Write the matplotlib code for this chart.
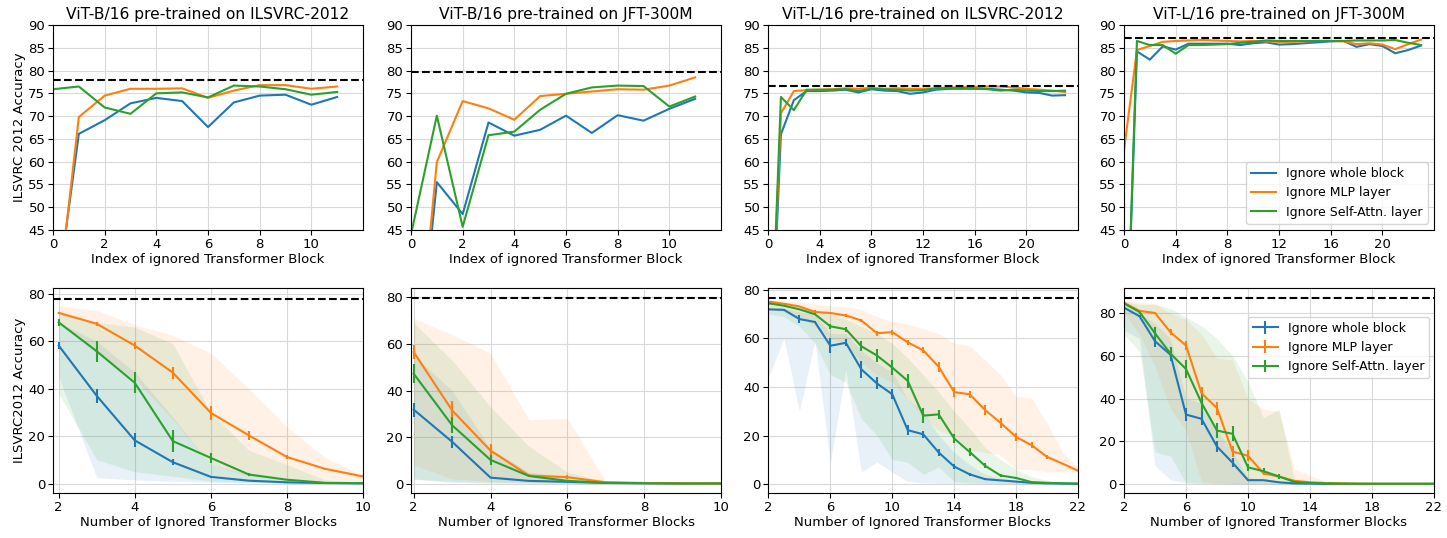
import matplotlib
matplotlib.use('Agg')
import matplotlib.pyplot as plt
import numpy as np

# ---- top row: accuracy when one block / layer is skipped ----
titles = ['ViT-B/16 pre-trained on ILSVRC-2012', 'ViT-B/16 pre-trained on JFT-300M',
          'ViT-L/16 pre-trained on ILSVRC-2012', 'ViT-L/16 pre-trained on JFT-300M']
baselines = [77.9, 79.6, 76.5, 87.1]

b16_in_block = [24, 66.1, 69.1, 72.8, 74.0, 73.3, 67.6, 73.0, 74.5, 74.7, 72.5, 74.2]
b16_in_mlp = [20, 69.8, 74.5, 76.0, 76.0, 76.1, 74.0, 75.6, 76.8, 76.8, 76.0, 76.5]
b16_in_attn = [75.9, 76.5, 71.9, 70.5, 75.0, 75.2, 74.1, 76.7, 76.5, 75.9, 74.7, 75.3]

b16_jft_block = [0.1, 55.5, 48.5, 68.6, 65.7, 67.0, 70.1, 66.3, 70.2, 69.0, 71.6, 73.8]
b16_jft_mlp = [0.1, 59.9, 73.3, 71.7, 69.2, 74.4, 74.9, 75.4, 75.9, 75.8, 76.7, 78.5]
b16_jft_attn = [44.0, 70.1, 45.7, 65.8, 66.6, 71.4, 74.9, 76.3, 76.7, 76.6, 72.1, 74.3]

l16_in_block = [0.1, 66.0, 73.5, 75.5, 75.5, 75.6, 75.8, 75.2, 75.9, 75.6, 75.5, 74.9,
                75.2, 75.8, 76.0, 76.0, 76.0, 76.0, 75.8, 75.6, 75.2, 75.1, 74.5, 74.6]
l16_in_mlp = [0.1, 70.6, 75.5, 75.7, 75.8, 75.9, 76.1, 76.0, 76.2, 76.0, 76.1, 76.0,
              76.0, 76.1, 76.3, 76.3, 76.4, 76.5, 76.5, 76.3, 76.0, 75.8, 75.6, 75.3]
l16_in_attn = [0.1, 74.2, 71.3, 75.8, 75.8, 75.8, 75.9, 75.5, 76.0, 75.9, 75.8, 75.6,
               75.7, 76.1, 76.1, 76.2, 76.1, 75.9, 75.6, 75.8, 75.6, 75.5, 75.5, 75.6]

l16_jft_block = [0.1, 84.2, 82.4, 85.3, 84.6, 85.9, 85.9, 85.9, 85.9, 85.6, 86.0, 86.2,
                 85.7, 85.8, 86.0, 86.2, 86.4, 86.5, 85.2, 85.8, 85.4, 83.8, 84.5, 85.5]
l16_jft_mlp = [62.5, 84.5, 85.4, 86.3, 86.5, 86.6, 86.7, 86.6, 86.5, 86.4, 86.5, 86.4,
               86.3, 86.3, 86.4, 86.5, 86.5, 86.4, 85.8, 86.0, 85.7, 84.7, 85.8, 86.8]
l16_jft_attn = [0.1, 86.5, 85.6, 85.6, 83.7, 85.6, 85.6, 85.7, 85.8, 86.1, 86.3, 86.6,
                86.5, 86.5, 86.5, 86.5, 86.5, 86.5, 86.6, 86.6, 86.6, 86.7, 86.1, 85.6]

top_data = [(b16_in_block, b16_in_mlp, b16_in_attn),
            (b16_jft_block, b16_jft_mlp, b16_jft_attn),
            (l16_in_block, l16_in_mlp, l16_in_attn),
            (l16_jft_block, l16_jft_mlp, l16_jft_attn)]

# ---- bottom row: accuracy when several blocks are skipped (mean, std, min, max) ----
b_in_blk = [58.2, 37.0, 18.2, 9.0, 2.8, 1.2, 0.5, 0.2, 0.1]
b_in_blk_e = [1.5, 3.0, 3.0, 1.2, 0.4, 0.2, 0.1, 0.1, 0.0]
b_in_blk_lo = [45, 2.5, 1.5, 1.0, 0.5, 0.3, 0.1, 0.0, 0.0]
b_in_blk_hi = [68, 60, 47, 28, 8, 4, 2, 0.5, 0.2]
b_in_mlp = [72.0, 67.4, 58.2, 46.8, 29.8, 20.3, 11.2, 6.2, 3.0]
b_in_mlp_e = [0.5, 0.8, 1.5, 2.5, 3.0, 2.0, 1.0, 0.5, 0.3]
b_in_mlp_lo = [68, 55, 44, 27, 8, 3, 2, 1, 0.5]
b_in_mlp_hi = [75, 73, 67, 62.5, 55, 40, 24, 11, 3.5]
b_in_att = [68.0, 55.8, 42.5, 17.9, 10.8, 3.8, 1.6, 0.3, 0.1]
b_in_att_e = [1.5, 4.5, 4.5, 4.5, 2.0, 0.8, 0.3, 0.1, 0.0]
b_in_att_lo = [38, 10, 5, 3, 1, 0.5, 0.2, 0.0, 0.0]
b_in_att_hi = [72, 68, 66, 59, 30, 14, 8, 1.5, 0.5]

b_jft_blk = [31.8, 18.0, 2.6, 1.2, 0.8, 0.3, 0.2, 0.1, 0.1]
b_jft_blk_e = [3.0, 2.5, 0.3, 0.1, 0.1, 0.0, 0.0, 0.0, 0.0]
b_jft_blk_lo = [2, 0.5, 0.3, 0.2, 0.1, 0.0, 0.0, 0.0, 0.0]
b_jft_blk_hi = [55, 40, 15, 5, 3, 0.5, 0.3, 0.2, 0.1]
b_jft_mlp = [56.5, 31.5, 14.2, 3.5, 2.8, 0.6, 0.3, 0.2, 0.1]
b_jft_mlp_e = [3.0, 4.0, 3.0, 0.5, 1.0, 0.3, 0.1, 0.0, 0.0]
b_jft_mlp_lo = [8, 2, 1, 0.5, 0.3, 0.1, 0.0, 0.0, -0.5]
b_jft_mlp_hi = [71, 64, 56, 27.5, 28, 1, 0.5, 0.3, 0.2]
b_jft_att = [47.2, 25.1, 10.2, 3.3, 1.2, 0.4, 0.2, 0.1, 0.1]
b_jft_att_e = [4.0, 3.5, 2.0, 0.6, 0.2, 0.1, 0.0, 0.0, 0.0]
b_jft_att_lo = [2, 1, 0.5, 0.3, 0.1, 0.0, 0.0, 0.0, 0.0]
b_jft_att_hi = [69, 53, 33, 16, 5, 1, 0.5, 0.3, 0.2]

l_in_blk = [72.0, 71.8, 68.0, 66.8, 57.0, 58.2, 47.3, 41.5, 37.0, 22.2, 20.5, 13.0,
            7.2, 4.0, 2.0, 1.5, 1.0, 0.5, 0.3, 0.2, 0.1]
l_in_blk_e = [1.0, 0.3, 1.5, 0.5, 3.0, 1.5, 3.5, 2.5, 2.0, 2.0, 1.5, 1.5,
              1.0, 0.5, 0.3, 0.2, 0.1, 0.1, 0.0, 0.0, 0.0]
l_in_blk_lo = [44, 60, 30, 59, 9, 47, 5, 9, 5, 1, 0.5, 0.3, 0.2, 0.1, 0.0, 0.0,
               0.0, 0.0, 0.0, 0.0, 0.0]
l_in_blk_hi = [72.5, 72.5, 71, 70, 62, 62, 55, 50, 46, 35, 30, 20, 13, 8, 4, 2.5,
               1.5, 1, 0.5, 0.3, 0.2]
l_in_mlp = [75.2, 74.3, 73.2, 70.9, 70.5, 69.5, 67.4, 62.2, 62.6, 58.4, 55.1, 48.3,
            37.9, 37.0, 30.5, 25.2, 19.4, 16.0, 11.2, 8.4, 5.5]
l_in_mlp_e = [0.3, 0.3, 0.3, 0.8, 0.3, 0.5, 0.8, 1.0, 1.0, 1.0, 1.2, 2.0,
              2.0, 1.5, 2.0, 2.0, 1.5, 1.2, 0.8, 0.3, 0.3]
l_in_mlp_lo = [72, 71, 69, 65, 60, 58, 50, 45, 42, 35, 28, 22, 20, 14, 13, 12,
               6, 6, 5, 5, 5]
l_in_mlp_hi = [76, 75.5, 75, 74, 73.5, 73, 72, 69, 67, 66, 64, 62, 58, 57, 51, 45,
               36, 35.5, 25, 13, 7]
l_in_att = [74.5, 73.5, 72.0, 70.0, 65.0, 63.8, 56.8, 53.0, 48.0, 42.5, 28.2, 28.7,
            18.8, 13.2, 7.5, 3.5, 2.5, 0.8, 0.5, 0.3, 0.2]
l_in_att_e = [0.3, 0.3, 0.3, 0.5, 1.0, 1.0, 2.0, 2.5, 3.0, 3.0, 3.0, 2.0,
              2.0, 1.5, 1.0, 0.5, 0.3, 0.1, 0.1, 0.0, 0.0]
l_in_att_lo = [70, 69, 65, 58, 45, 42, 27, 20, 10, 9, 4, 7, 1, 0.5, 0.3, 0.2,
               0.1, 0.0, 0.0, 0.0, 0.0]
l_in_att_hi = [75, 74, 73, 72, 70, 68, 65, 62, 58, 52, 45, 38, 30, 23, 15, 10,
               6, 3, 1.5, 0.5, 0.3]

l_jft_blk = [82.5, 78.5, 66.8, 60.5, 32.5, 30.5, 17.5, 10.0, 1.8, 1.8, 0.8, 0.3,
             0.2, 0.1, 0.1, 0.1, 0.1, 0.1, 0.1, 0.1, 0.1]
l_jft_blk_e = [0.5, 0.5, 2.5, 3.0, 3.0, 3.0, 2.5, 2.0, 0.3, 0.2, 0.1, 0.0,
               0.0, 0.0, 0.0, 0.0, 0.0, 0.0, 0.0, 0.0, 0.0]
l_jft_blk_lo = [72, 68, 8.5, 2, 0.5, 0.3, 0.2, 0.1, 0.0, 0.0, 0.0, 0.0, 0.0, 0.0,
                0.0, 0.0, 0.0, 0.0, 0.0, 0.0, 0.0]
l_jft_blk_hi = [84, 80, 75, 68, 40, 38, 25, 15, 3, 2, 1, 0.5, 0.3, 0.2, 0.1, 0.1,
                0.1, 0.1, 0.1, 0.1, 0.1]
l_jft_mlp = [84.8, 81.0, 80.0, 71.0, 64.8, 42.5, 35.5, 15.2, 13.2, 5.0, 3.5, 1.5,
             0.8, 0.5, 0.3, 0.2, 0.1, 0.1, 0.1, 0.1, 0.1]
l_jft_mlp_e = [0.5, 0.5, 0.5, 1.5, 2.0, 3.0, 3.0, 2.5, 2.5, 1.0, 0.5, 0.3,
               0.1, 0.0, 0.0, 0.0, 0.0, 0.0, 0.0, 0.0, 0.0]
l_jft_mlp_lo = [80, 70, 55, 35, 25, 1, 0.5, 0.3, 0.2, 0.1, 0.0, 0.0, 0.0, 0.0,
                0.0, 0.0, 0.0, 0.0, 0.0, 0.0, 0.0]
l_jft_mlp_hi = [86, 85, 84.5, 80, 77, 70, 59, 58, 40, 35, 34, 7, 4, 1, 0.5, 0.3,
                0.2, 0.1, 0.1, 0.1, 0.1]
l_jft_att = [84.5, 80.5, 70.5, 61.0, 53.8, 38.0, 25.0, 23.5, 7.8, 6.0, 3.5, 1.0,
             0.5, 0.3, 0.2, 0.1, 0.1, 0.1, 0.1, 0.1, 0.1]
l_jft_att_e = [0.5, 1.0, 3.0, 3.0, 4.0, 4.5, 3.5, 3.5, 1.5, 1.5, 1.0, 0.3,
               0.1, 0.0, 0.0, 0.0, 0.0, 0.0, 0.0, 0.0, 0.0]
l_jft_att_lo = [70, 62, 15, 13, 0.5, 0.3, 0.2, 0.1, 0.0, 0.0, 0.0, 0.0, 0.0, 0.0,
                0.0, 0.0, 0.0, 0.0, 0.0, 0.0, 0.0]
l_jft_att_hi = [85.5, 84, 84, 82, 78, 74, 68, 60, 48, 31, 35, 2, 1, 0.5, 0.3, 0.2,
                0.1, 0.1, 0.1, 0.1, 0.1]

bottom_data = [
    [(b_in_blk, b_in_blk_e, b_in_blk_lo, b_in_blk_hi),
     (b_in_mlp, b_in_mlp_e, b_in_mlp_lo, b_in_mlp_hi),
     (b_in_att, b_in_att_e, b_in_att_lo, b_in_att_hi)],
    [(b_jft_blk, b_jft_blk_e, b_jft_blk_lo, b_jft_blk_hi),
     (b_jft_mlp, b_jft_mlp_e, b_jft_mlp_lo, b_jft_mlp_hi),
     (b_jft_att, b_jft_att_e, b_jft_att_lo, b_jft_att_hi)],
    [(l_in_blk, l_in_blk_e, l_in_blk_lo, l_in_blk_hi),
     (l_in_mlp, l_in_mlp_e, l_in_mlp_lo, l_in_mlp_hi),
     (l_in_att, l_in_att_e, l_in_att_lo, l_in_att_hi)],
    [(l_jft_blk, l_jft_blk_e, l_jft_blk_lo, l_jft_blk_hi),
     (l_jft_mlp, l_jft_mlp_e, l_jft_mlp_lo, l_jft_mlp_hi),
     (l_jft_att, l_jft_att_e, l_jft_att_lo, l_jft_att_hi)],
]
bottom_ylims = [(-4, 82.5), (-4, 84), (-3.7, 80.8), (-4.2, 91.7)]
bottom_xstart = [1.85, 1.93, 1.97, 2.0]

labels = ['Ignore whole block', 'Ignore MLP layer', 'Ignore Self-Attn. layer']
colors = ['#1f77b4', '#ff7f0e', '#2ca02c']

W, H = 1447, 538
fig = plt.figure(figsize=(W / 100, H / 100), dpi=100)
lefts = [53, 411, 768, 1124]
aw, ah = 310, 205

for i in range(4):
    # top panel
    ax = fig.add_axes([lefts[i] / W, 1 - 230 / H, aw / W, ah / H])
    ax.grid(color='#d9d9d9', linewidth=0.8)
    ax.set_axisbelow(True)
    n = len(top_data[i][0])
    x = np.arange(n)
    for ys, c, lab in zip(top_data[i], colors, labels):
        ax.plot(x, ys, color=c, lw=1.5, label=lab)
    ax.axhline(baselines[i], color='black', ls='--', lw=1.5)
    ax.set_ylim(45, 90)
    ax.set_yticks(np.arange(45, 91, 5))
    ax.set_xlim(0, n)
    ax.set_xticks(np.arange(0, n - 1, 2 if n < 20 else 4))
    ax.set_title(titles[i], fontsize=11.2, pad=4)
    ax.set_xlabel('Index of ignored Transformer Block', fontsize=9.5, labelpad=2)
    ax.tick_params(labelsize=9.5, pad=2)
    if i == 0:
        ax.set_ylabel('ILSVRC 2012 Accuracy', fontsize=9.5, labelpad=2)
    if i == 3:
        ax.legend(loc='lower right', fontsize=9)

    # bottom panel
    ax = fig.add_axes([lefts[i] / W, 1 - 493 / H, aw / W, ah / H])
    ax.grid(color='#d9d9d9', linewidth=0.8)
    ax.set_axisbelow(True)
    m = len(bottom_data[i][0][0])
    xb = np.arange(2, 2 + m)
    for (mu, err, lo, hi), c, lab in zip(bottom_data[i], colors, labels):
        ax.fill_between(xb, lo, hi, color=c, alpha=0.1, lw=0)
        ax.errorbar(xb, mu, yerr=err, color=c, lw=1.5, label=lab)
    ax.axhline(baselines[i], color='black', ls='--', lw=1.5)
    ax.set_ylim(*bottom_ylims[i])
    ax.set_yticks([0, 20, 40, 60, 80])
    ax.set_xlim(bottom_xstart[i], 1 + m)
    ax.set_xticks(np.arange(2, 2 + m, 2 if m < 15 else 4))
    ax.set_xlabel('Number of Ignored Transformer Blocks', fontsize=9.5, labelpad=2)
    ax.tick_params(labelsize=9.5, pad=2)
    if i == 0:
        ax.set_ylabel('ILSVRC2012 Accuracy', fontsize=9.5, labelpad=2)
    if i == 3:
        ax.legend(loc='upper right', bbox_to_anchor=(0.985, 0.86), borderaxespad=0, fontsize=9)

fig.savefig('out.png', dpi=100)
